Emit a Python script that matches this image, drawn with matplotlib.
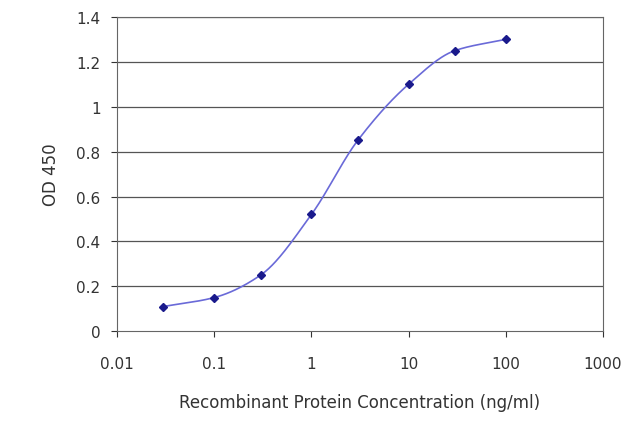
import numpy as np
import matplotlib
matplotlib.use("Agg")
from matplotlib import pyplot as plt

conc = [0.03, 0.1, 0.3, 1, 3, 10, 30, 100]
od = [0.11, 0.15, 0.25, 0.52, 0.85, 1.10, 1.25, 1.30]
xticks = [0.01, 0.1, 1, 10, 100, 1000]
xlabels = ["0.01", "0.1", "1", "10", "100", "1000"]
yticks = [0, 0.2, 0.4, 0.6, 0.8, 1, 1.2, 1.4]
ylabels = ["0", "0.2", "0.4", "0.6", "0.8", "1", "1.2", "1.4"]


def pchip(x, y, xs):
    # monotone cubic, only for smoothing the line between points
    x = np.asarray(x, float)
    y = np.asarray(y, float)
    h = np.diff(x)
    d = np.diff(y) / h
    m = np.zeros_like(y)
    for k in range(1, len(x) - 1):
        if d[k - 1] * d[k] > 0:
            w1 = 2 * h[k] + h[k - 1]
            w2 = h[k] + 2 * h[k - 1]
            m[k] = (w1 + w2) / (w1 / d[k - 1] + w2 / d[k])
    m[0] = d[0]
    m[-1] = d[-1]
    out = np.empty_like(xs)
    for i, v in enumerate(xs):
        k = min(np.searchsorted(x, v) - 1, len(x) - 2)
        k = max(k, 0)
        t = (v - x[k]) / h[k]
        h00 = 2 * t**3 - 3 * t**2 + 1
        h10 = t**3 - 2 * t**2 + t
        h01 = -2 * t**3 + 3 * t**2
        h11 = t**3 - t**2
        out[i] = h00 * y[k] + h10 * h[k] * m[k] + h01 * y[k + 1] + h11 * h[k] * m[k + 1]
    return out


lx = np.log10(conc)
xs = np.linspace(lx[0], lx[-1], 300)
ys = pchip(lx, od, xs)

fig = plt.figure(figsize=(6.4, 4.27), dpi=100)
ax = fig.add_axes([0.183, 0.222, 0.759, 0.736])
ax.set_xscale("log")
ax.set_xlim(0.01, 1000)
ax.set_ylim(0, 1.4)
for t in yticks[1:]:
    ax.axhline(t, color="#555555", lw=0.9, zorder=0)
ax.plot(10**xs, ys, color="#6a6ad8", lw=1.2)
ax.plot(conc, od, "D", color="#1a1a8c", ms=4.5, ls="none")
ax.set_xticks(xticks)
ax.set_xticklabels(xlabels)
ax.set_yticks(yticks)
ax.set_yticklabels(ylabels)
ax.minorticks_off()
ax.tick_params(labelsize=11, colors="#333333", length=4)
ax.tick_params(axis="x", pad=14)
ax.tick_params(axis="y", pad=8)
for s in ax.spines.values():
    s.set_color("#666666")
ax.set_xlabel("Recombinant Protein Concentration (ng/ml)", fontsize=12, color="#333333", labelpad=16)
ax.set_ylabel("OD 450", fontsize=12, color="#333333", labelpad=12)
fig.savefig("out.png", dpi=100)
